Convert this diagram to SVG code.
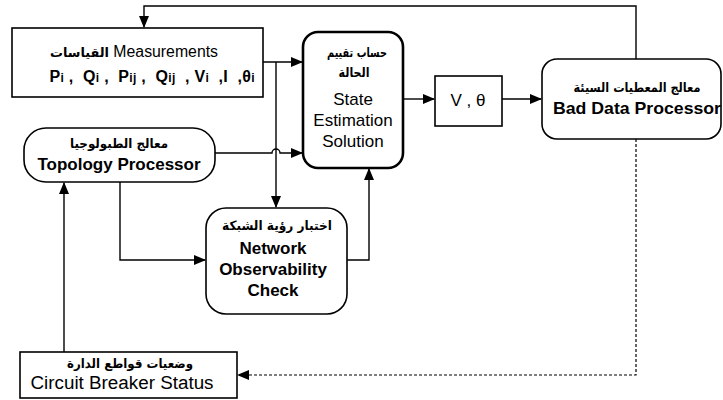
<svg xmlns="http://www.w3.org/2000/svg" width="723" height="400" viewBox="0 0 723 400">
<style>
text{font-family:"Liberation Sans",Arial,"DejaVu Sans",sans-serif;fill:#000;text-anchor:middle}
.ar{font-family:"DejaVu Sans","Liberation Sans",sans-serif;font-weight:bold;font-size:13px}
.b{font-weight:bold;font-size:17px}
.r{font-size:17px}
.box{fill:#fff;stroke:#000;stroke-width:1.6}
.thick{fill:#fff;stroke:#000;stroke-width:2.6}
.ln{fill:none;stroke:#000;stroke-width:1.4}
.dash{fill:none;stroke:#000;stroke-width:1.2;stroke-dasharray:3,2}
</style>
<defs>
<marker id="ah" markerWidth="12" markerHeight="10" refX="11" refY="5" orient="auto" markerUnits="userSpaceOnUse">
<path d="M0,0 L12,5 L0,10 Z" fill="#000"/>
</marker>
</defs>
<rect width="723" height="400" fill="#fff"/>
<g id="connectors">
<path class="ln" d="M263,62 H302" marker-end="url(#ah)"/>
<path class="ln" d="M276,62 V207" marker-end="url(#ah)"/>
<path class="ln" d="M215,153 H272 A4,4 0 0 1 280,153 H302" marker-end="url(#ah)"/>
<path class="ln" d="M120,182 V260 H205" marker-end="url(#ah)"/>
<path class="ln" d="M347,260 H369 V169" marker-end="url(#ah)"/>
<path class="ln" d="M403,99 H434" marker-end="url(#ah)"/>
<path class="ln" d="M502,99 H541" marker-end="url(#ah)"/>
<path class="ln" d="M636,59 V6 H144 V27" marker-end="url(#ah)"/>
<path class="dash" d="M636,139 V375 H238" marker-end="url(#ah)"/>
<path class="ln" d="M64,352 V183" marker-end="url(#ah)"/>
</g>
<g id="measurements">
<rect class="box" x="12" y="28" width="251" height="69"/>
<text x="134" y="57" font-size="16" textLength="168" lengthAdjust="spacingAndGlyphs"><tspan class="ar">القياسات</tspan> Measurements</text>
<text x="152" y="82" font-size="16" font-weight="bold" xml:space="preserve" textLength="205" lengthAdjust="spacing">P<tspan font-size="12">i</tspan> ,  Q<tspan font-size="12">i</tspan> ,  P<tspan font-size="12">ij</tspan> ,  Q<tspan font-size="12">ij</tspan>  , V<tspan font-size="12">i</tspan>  ,I  ,θ<tspan font-size="12">i</tspan></text>
</g>
<g id="state-estimation">
<rect class="thick" x="303" y="32" width="100" height="136" rx="15"/>
<text class="ar" x="357" y="57" textLength="60" lengthAdjust="spacingAndGlyphs">حساب تقييم</text>
<text class="ar" x="354" y="77" textLength="31" lengthAdjust="spacingAndGlyphs">الحالة</text>
<text class="r" x="353" y="105">State</text>
<text class="r" x="353" y="126">Estimation</text>
<text class="r" x="353" y="147">Solution</text>
</g>
<g id="v-theta">
<rect class="box" x="435" y="76" width="67" height="50"/>
<text class="r" x="468" y="106" xml:space="preserve">V , θ</text>
</g>
<g id="bad-data">
<rect class="box" x="542" y="59" width="179" height="80" rx="15"/>
<text class="ar" x="637" y="92" textLength="127" lengthAdjust="spacingAndGlyphs">معالج المعطيات السيئة</text>
<text class="b" x="637" y="114" textLength="168" lengthAdjust="spacingAndGlyphs">Bad Data Processor</text>
</g>
<g id="topology">
<rect class="box" x="24" y="128" width="191" height="54" rx="22"/>
<text class="ar" x="119" y="148" textLength="98" lengthAdjust="spacingAndGlyphs">معالج الطبولوجيا</text>
<text class="b" x="119" y="170">Topology Processor</text>
</g>
<g id="network">
<rect class="box" x="206" y="208" width="141" height="106" rx="20"/>
<text class="ar" x="277" y="230" textLength="110" lengthAdjust="spacingAndGlyphs">اختبار رؤية الشبكة</text>
<text class="b" x="273" y="254">Network</text>
<text class="b" x="273" y="275">Observability</text>
<text class="b" x="273" y="296">Check</text>
</g>
<g id="breaker">
<rect class="box" x="20" y="352" width="217" height="46"/>
<text class="ar" x="130" y="368" textLength="126" lengthAdjust="spacingAndGlyphs">وضعيات قواطع الدارة</text>
<text x="122" y="389" font-size="18" textLength="183" lengthAdjust="spacingAndGlyphs">Circuit Breaker Status</text>
</g>
</svg>
